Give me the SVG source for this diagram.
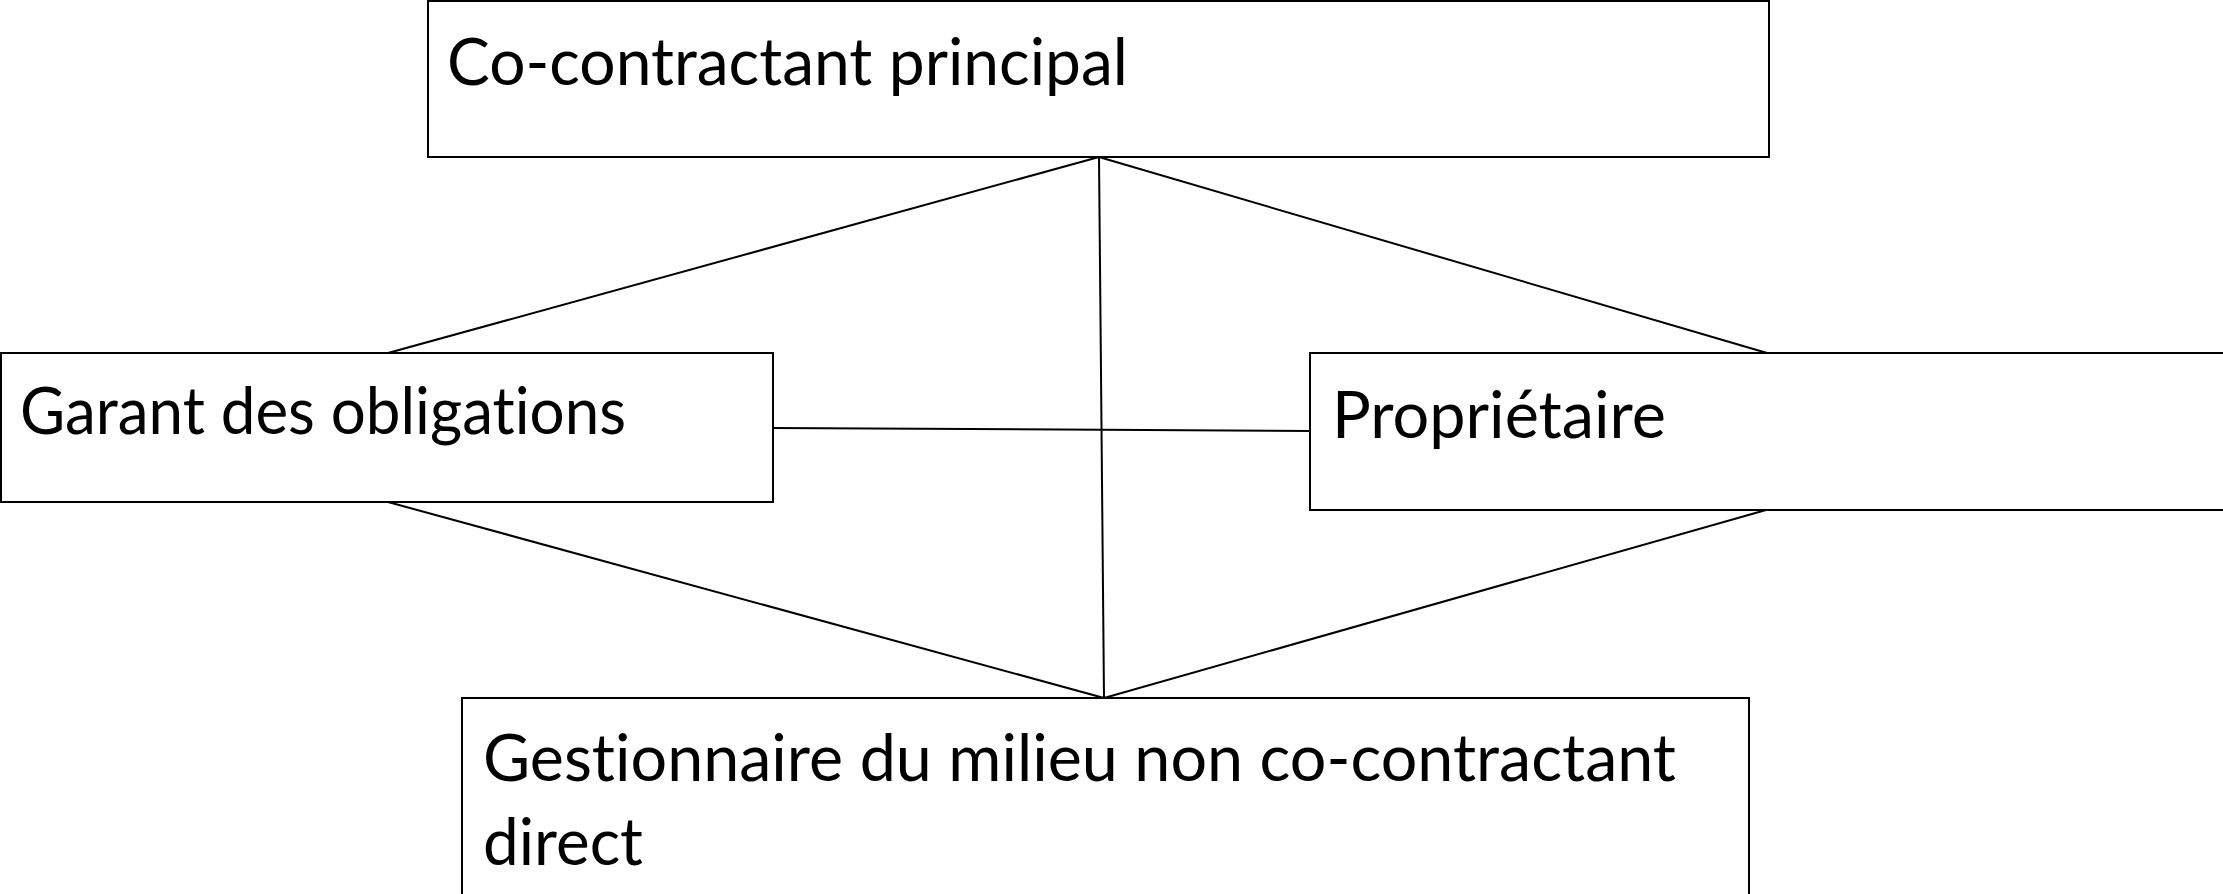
<svg xmlns="http://www.w3.org/2000/svg" width="2223" height="894" viewBox="0 0 2223 894">
<style>
.box{fill:#ffffff;stroke:#000000;stroke-width:2}
.lbl{font-family:Lato,"Open Sans","Liberation Sans",sans-serif;font-size:66px;fill:#000000;font-variant-ligatures:none;font-feature-settings:"liga" 0,"clig" 0}
.conn{stroke:#000000;stroke-width:2;fill:none}
</style>
<rect width="2223" height="894" fill="#ffffff"/>
<g id="connectors">
<line class="conn" x1="1099" y1="157" x2="388" y2="353"/>
<line class="conn" x1="1099" y1="157" x2="1767" y2="353"/>
<line class="conn" x1="1099" y1="157" x2="1104" y2="698"/>
<line class="conn" x1="773" y1="428" x2="1310" y2="431"/>
<line class="conn" x1="388" y1="502" x2="1104" y2="698"/>
<line class="conn" x1="1766" y1="510" x2="1104" y2="698"/>
</g>
<g id="node-cocontractant">
<rect class="box" x="428" y="1" width="1341" height="156"/>
<text class="lbl" x="447" y="85" textLength="681" lengthAdjust="spacingAndGlyphs">Co-contractant principal</text>
</g>
<g id="node-garant">
<rect class="box" x="1" y="353" width="772" height="149"/>
<text class="lbl" x="20" y="434" textLength="606" lengthAdjust="spacingAndGlyphs">Garant des obligations</text>
</g>
<g id="node-proprietaire">
<rect class="box" x="1310" y="353" width="920" height="157"/>
<text class="lbl" x="1332" y="438" textLength="334" lengthAdjust="spacingAndGlyphs">Propriétaire</text>
</g>
<g id="node-gestionnaire">
<rect class="box" x="462" y="698" width="1287" height="210"/>
<text class="lbl" x="483" y="781" textLength="1193" lengthAdjust="spacingAndGlyphs">Gestionnaire du milieu non co-contractant</text>
<text class="lbl" x="483" y="865" textLength="160" lengthAdjust="spacingAndGlyphs">direct</text>
</g>
</svg>
